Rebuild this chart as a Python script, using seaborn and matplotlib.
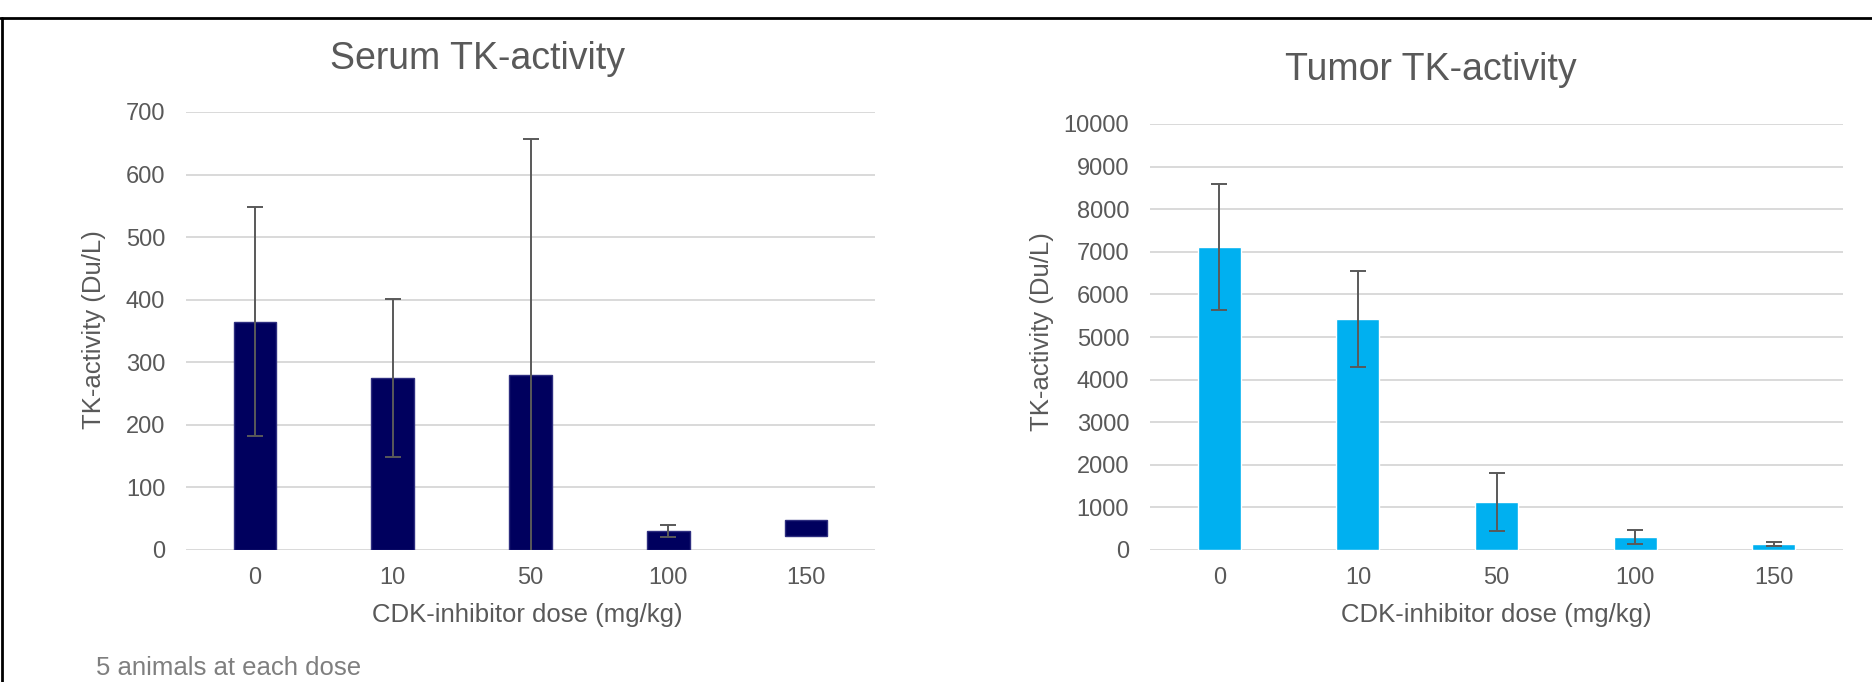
import numpy as np
import pandas as pd
import seaborn as sns
import matplotlib.pyplot as plt

# data
doses = ["0", "10", "50", "100", "150"]

serum_top = [365, 275, 280, 30, 48]
serum_base = [0, 0, 0, 0, 22]
serum_err = [183, 126, 377, 10, np.nan]

tumor_mean = [7112, 5429, 1133, 296, 143]
tumor_err = [1470, 1122, 680, 165, 56]

serum_ticks = [0, 100, 200, 300, 400, 500, 600, 700]
tumor_ticks = [0, 1000, 2000, 3000, 4000, 5000, 6000, 7000, 8000, 9000, 10000]

TEXT = "#595959"
GRID = "#D9D9D9"
NAVY = "#00005E"
CYAN = "#00B0F0"

sns.set_style("white")
plt.rcParams["font.family"] = ["Liberation Sans", "DejaVu Sans"]

W, H = 1872, 682
fig = plt.figure(figsize=(W / 100, H / 100), dpi=100)


def px(x, y):
    return x / W, 1 - y / H


def style_axis(ax, ticks):
    ax.set_ylim(ticks[0], ticks[-1])
    ax.set_yticks(ticks)
    ax.set_xlim(-0.5, 4.5)
    ax.grid(axis="y", color=GRID, linewidth=1.4)
    ax.set_axisbelow(True)
    for s in ax.spines.values():
        s.set_visible(False)
    ax.tick_params(axis="both", length=0, labelsize=17, labelcolor=TEXT)
    ax.tick_params(axis="y", pad=15)
    ax.tick_params(axis="x", pad=12)
    ax.set_xlabel("")
    ax.set_ylabel("")


# Serum panel
serum_df = pd.DataFrame(
    {"dose": doses, "height": np.array(serum_top) - np.array(serum_base)}
)
ax1 = fig.add_axes([186 / W, 1 - 550 / H, (875 - 186) / W, (550 - 112) / H])
sns.barplot(
    data=serum_df, x="dose", y="height", order=doses, color=NAVY,
    saturation=1, width=0.31, bottom=serum_base, edgecolor="#2E2E80",
    linewidth=1, ax=ax1,
)
ax1.errorbar(
    range(len(doses)), serum_top, yerr=serum_err, fmt="none",
    ecolor=TEXT, elinewidth=1.4, capsize=6, capthick=1.4, zorder=3,
)
style_axis(ax1, serum_ticks)

# Tumor panel
tumor_df = pd.DataFrame({"dose": doses, "mean": tumor_mean})
ax2 = fig.add_axes([1150 / W, 1 - 550 / H, (1843 - 1150) / W, (550 - 124) / H])
sns.barplot(
    data=tumor_df, x="dose", y="mean", order=doses, color=CYAN,
    saturation=1, width=0.31, ax=ax2,
)
ax2.errorbar(
    range(len(doses)), tumor_mean, yerr=tumor_err, fmt="none",
    ecolor=TEXT, elinewidth=1.4, capsize=6, capthick=1.4, zorder=3,
)
style_axis(ax2, tumor_ticks)

# titles and labels
fig.text(*px(478, 59), "Serum TK-activity", ha="center", va="center",
         fontsize=27, color=TEXT)
fig.text(*px(1431, 70), "Tumor TK-activity", ha="center", va="center",
         fontsize=27, color=TEXT)
fig.text(*px(94, 330), "TK-activity (Du/L)", ha="center", va="center",
         rotation=90, fontsize=18.5, color=TEXT)
fig.text(*px(1042, 332), "TK-activity (Du/L)", ha="center", va="center",
         rotation=90, fontsize=18.5, color=TEXT)
fig.text(*px(527, 615), "CDK-inhibitor dose (mg/kg)", ha="center",
         va="center", fontsize=18.5, color=TEXT)
fig.text(*px(1496, 615), "CDK-inhibitor dose (mg/kg)", ha="center",
         va="center", fontsize=18.5, color=TEXT)
fig.text(*px(96, 668), "5 animals at each dose", ha="left", va="center",
         fontsize=18.5, color="#7F7F7F")

# frame lines on top and left
fig.add_artist(plt.Line2D([0, 1], [1 - 18 / H] * 2, color="black", lw=2))
fig.add_artist(plt.Line2D([1.5 / W] * 2, [0, 1 - 18 / H], color="black", lw=2))

fig.savefig("out.png", dpi=100)
